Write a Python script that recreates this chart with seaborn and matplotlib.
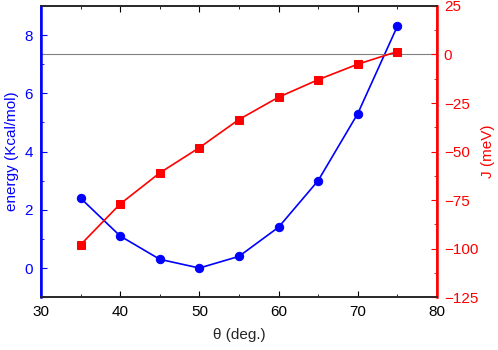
import matplotlib
matplotlib.use("Agg")
import matplotlib.pyplot as plt
import seaborn as sns
import pandas as pd
from matplotlib.ticker import MultipleLocator

theta = [35, 40, 45, 50, 55, 60, 65, 70, 75]
energy = [2.4, 1.1, 0.3, 0.0, 0.4, 1.4, 3.0, 5.3, 8.3]
J = [-98, -77, -61, -48, -33.5, -22, -13, -5, 1.5]

sns.set_style("ticks")
plt.rcParams['font.family'] = ['Liberation Sans', 'DejaVu Sans']

df = pd.DataFrame({"theta": theta, "energy": energy, "J": J})

fig = plt.figure(figsize=(4.98, 3.5), dpi=100)
ax = fig.add_axes([0.0823, 0.151, 0.795, 0.832])
ax2 = ax.twinx()

sns.lineplot(data=df, x="theta", y="energy", ax=ax, color="#0000ff", marker="o",
             markersize=6, markeredgecolor="#0000ff", linewidth=1.2)
sns.lineplot(data=df, x="theta", y="J", ax=ax2, color="#ff0000", marker="s",
             markersize=5.5, markeredgecolor="#ff0000", linewidth=1.2)
ax2.axhline(0, color="gray", linewidth=0.8, zorder=0)

ax.set_xlim(30, 80)
ax.set_ylim(-1, 9)
ax2.set_ylim(-125, 25)
ax.xaxis.set_major_locator(MultipleLocator(10))
ax.xaxis.set_minor_locator(MultipleLocator(5))
ax.yaxis.set_major_locator(MultipleLocator(2))
ax.yaxis.set_minor_locator(MultipleLocator(1))
ax2.yaxis.set_major_locator(MultipleLocator(25))
ax2.yaxis.set_minor_locator(MultipleLocator(12.5))

ax.set_xlabel("θ (deg.)", fontsize=11, labelpad=6)
ax.set_ylabel("energy (Kcal/mol)", fontsize=11, color="#0000ff", labelpad=4)
ax2.set_ylabel("J (meV)", fontsize=11, color="#ff0000", labelpad=2)

ax.tick_params(axis='x', which='both', direction='in', top=True, labelsize=11, colors='black', pad=6)
ax.tick_params(axis='x', which='major', length=4)
ax.tick_params(axis='x', which='minor', length=2)
ax.tick_params(axis='y', which='both', direction='in', colors='#0000ff', labelsize=11, pad=6)
ax.tick_params(axis='y', which='major', length=4)
ax.tick_params(axis='y', which='minor', length=2)
ax2.tick_params(axis='y', which='both', direction='in', colors='#ff0000', labelsize=11, pad=5)
ax2.tick_params(axis='y', which='major', length=4)
ax2.tick_params(axis='y', which='minor', length=2)

for a in (ax, ax2):
    for s in a.spines.values():
        s.set_linewidth(1.2)
ax2.spines['left'].set_color('#0000ff')
ax2.spines['right'].set_color('#ff0000')
ax2.spines['left'].set_linewidth(1.8)
ax2.spines['right'].set_linewidth(1.8)
ax.spines['left'].set_color('#0000ff')
ax.spines['right'].set_color('#ff0000')

fig.savefig("out.png", dpi=100)
